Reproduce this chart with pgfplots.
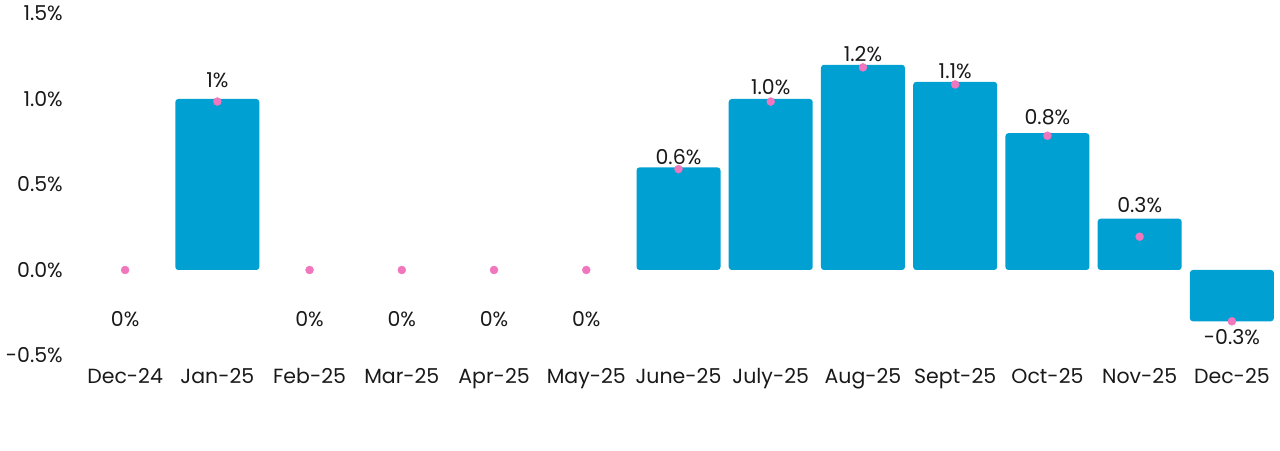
\documentclass[border=0pt]{standalone}
\usepackage{pgfplots}
\pgfplotsset{compat=1.18}
\usepackage{pgfplotstable}
\usepackage{fontspec}
\setmainfont{Poppins}
\definecolor{barblue}{RGB}{0,160,210}
\definecolor{dotpink}{RGB}{240,118,190}
\pgfplotstableread{
x y
1 1.0
6 0.6
7 1.0
8 1.2
9 1.1
10 0.8
11 0.3
12 -0.3
}\bars
\pgfplotstableread{
x y
0 0
1 0.985
2 0
3 0
4 0
5 0
6 0.59
7 0.985
8 1.185
9 1.085
10 0.785
11 0.195
12 -0.30
}\dots
\pgfplotstableread{
x y lab
0 -0.29 0\%
1 1.11 1\%
2 -0.29 0\%
3 -0.29 0\%
4 -0.29 0\%
5 -0.29 0\%
6 0.66 0.6\%
7 1.07 1.0\%
8 1.26 1.2\%
9 1.165 1.1\%
10 0.895 0.8\%
11 0.38 0.3\%
12 -0.39 -0.3\%
}\labs
\begin{document}
\begin{tikzpicture}
\useasboundingbox (0,0) rectangle (1280pt,450pt);
\begin{axis}[
  at={(79pt,94.5pt)}, anchor=south west,
  scale only axis, width=1199pt, height=342pt,
  xmin=-0.5, xmax=12.5, ymin=-0.5, ymax=1.5,
  axis line style={draw=none}, tick style={draw=none},
  xtick={0,...,12},
  xticklabels={Dec-24,Jan-25,Feb-25,Mar-25,Apr-25,May-25,June-25,July-25,Aug-25,Sept-25,Oct-25,Nov-25,Dec-25},
  ytick={-0.5,0,0.5,1,1.5},
  yticklabels={-0.5\%,0.0\%,0.5\%,1.0\%,1.5\%},
  tick label style={font=\fontsize{20.5}{24}\selectfont, text=black!90},
  yticklabel style={inner sep=0pt, xshift=-16pt},
  xticklabel style={inner sep=0pt, yshift=-13pt},
  clip=false,
]
\addplot[ybar, bar shift=0pt, bar width=84pt, fill=barblue, draw=none, rounded corners=3pt] table[x=x,y=y] {\bars};
\addplot[only marks, mark=*, mark size=4pt, color=dotpink, mark options={fill=dotpink, draw=dotpink}] table[x=x,y=y] {\dots};
\addplot[draw=none, mark=none, nodes near coords, point meta=explicit symbolic,
  every node near coord/.append style={anchor=center, font=\fontsize{20.5}{24}\selectfont, text=black!90}]
  table[x=x,y=y,meta=lab] {\labs};
\end{axis}
\end{tikzpicture}
\end{document}
